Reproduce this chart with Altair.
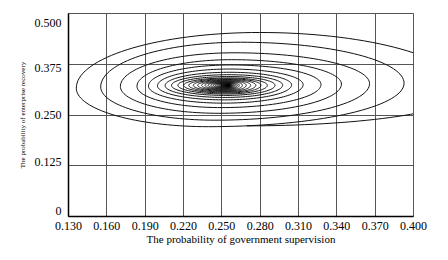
import altair as alt
import numpy as np
import pandas as pd

# Tick values
x_ticks = [0.130, 0.160, 0.190, 0.220, 0.250, 0.280, 0.310, 0.340, 0.370, 0.400]
y_ticks = [0.0, 0.125, 0.250, 0.375, 0.500]

# Start of the trajectory (on the outer bottom arc)
start_x = 0.270
start_y = 0.222

# Extreme points of each loop of the spiral (outer -> inner)
right_x = [0.440, 0.393, 0.366, 0.344, 0.328, 0.314, 0.305, 0.298, 0.292, 0.286,
           0.281, 0.277, 0.273, 0.2695, 0.2665, 0.2640, 0.2625, 0.2613, 0.2603, 0.2595,
           0.2588, 0.2582, 0.2577, 0.2573, 0.2570, 0.2567, 0.2565, 0.2563, 0.2562, 0.2561,
           0.2560, 0.2559, 0.2558, 0.2558, 0.2557]
right_y = [0.305, 0.327, 0.326, 0.325, 0.324, 0.3235, 0.323, 0.3225, 0.322, 0.322,
           0.322, 0.322, 0.322, 0.322, 0.322, 0.322, 0.322, 0.322, 0.322, 0.322,
           0.322, 0.322, 0.322, 0.322, 0.322, 0.322, 0.322, 0.322, 0.322, 0.322,
           0.322, 0.322, 0.322, 0.322, 0.322]
top_x = [0.280, 0.265, 0.260, 0.258, 0.257, 0.2565, 0.2562, 0.2560, 0.2558, 0.2558,
         0.2558, 0.2558, 0.2558, 0.2558, 0.2558, 0.2558, 0.2558, 0.2558, 0.2558, 0.2558,
         0.2558, 0.2558, 0.2558, 0.2558, 0.2558, 0.2558, 0.2558, 0.2558, 0.2558, 0.2558,
         0.2558, 0.2558, 0.2558, 0.2558, 0.2558]
top_y = [0.452, 0.428, 0.402, 0.385, 0.372, 0.362, 0.354, 0.348, 0.3435, 0.340,
         0.3380, 0.3362, 0.3346, 0.3331, 0.3318, 0.3306, 0.3295, 0.3285, 0.3276, 0.3268,
         0.3261, 0.3255, 0.3250, 0.3245, 0.3241, 0.3238, 0.3235, 0.3233, 0.3231, 0.3229,
         0.3228, 0.3227, 0.3226, 0.3225, 0.3225]
left_x = [0.1365, 0.1556, 0.171, 0.184, 0.193, 0.200, 0.206, 0.211, 0.216, 0.2205,
          0.2245, 0.228, 0.2315, 0.2345, 0.2372, 0.2396, 0.2418, 0.2437, 0.2453, 0.2467,
          0.2480, 0.2490, 0.2499, 0.2507, 0.2514, 0.2520, 0.2525, 0.2530, 0.2534, 0.2537,
          0.2540, 0.2543, 0.2545, 0.2547, 0.2549]
left_y = [0.315, 0.318, 0.319, 0.3195, 0.320, 0.3205, 0.321, 0.3215, 0.322, 0.322,
          0.322, 0.322, 0.322, 0.322, 0.322, 0.322, 0.322, 0.322, 0.322, 0.322,
          0.322, 0.322, 0.322, 0.322, 0.322, 0.322, 0.322, 0.322, 0.322, 0.322,
          0.322, 0.322, 0.322, 0.322, 0.322]
bottom_x = [0.240, 0.245, 0.248, 0.250, 0.2515, 0.2525, 0.253, 0.2535, 0.254, 0.2545,
            0.2550, 0.2550, 0.2550, 0.2550, 0.2550, 0.2550, 0.2550, 0.2550, 0.2550, 0.2550,
            0.2550, 0.2550, 0.2550, 0.2550, 0.2550, 0.2550, 0.2550, 0.2550, 0.2550, 0.2550,
            0.2550, 0.2550, 0.2550, 0.2550, 0.2550]
bottom_y = [0.220, 0.236, 0.253, 0.267, 0.278, 0.286, 0.292, 0.297, 0.3005, 0.303,
            0.3050, 0.3068, 0.3084, 0.3099, 0.3113, 0.3126, 0.3138, 0.3149, 0.3159, 0.3168,
            0.3176, 0.3183, 0.3189, 0.3194, 0.3198, 0.3201, 0.3204, 0.3206, 0.3208, 0.3210,
            0.3211, 0.3212, 0.3213, 0.3214, 0.3215]


def quarter(h, v, reverse, n=36):
    """Quarter ellipse between a horizontal extreme h and a vertical extreme v."""
    cx, cy = v[0], h[1]
    t = np.linspace(0, np.pi / 2, n)
    xs = cx + (h[0] - cx) * np.cos(t)
    ys = cy + (v[1] - cy) * np.sin(t)
    if reverse:
        xs, ys = xs[::-1], ys[::-1]
    return list(xs), list(ys)


px, py = [], []
S = (start_x, start_y)
for k in range(len(right_x)):
    R = (right_x[k], right_y[k])
    T = (top_x[k], top_y[k])
    L = (left_x[k], left_y[k])
    B = (bottom_x[k], bottom_y[k])
    prevB = S if k == 0 else (bottom_x[k - 1], bottom_y[k - 1])
    for xs, ys in (quarter(R, prevB, True), quarter(R, T, False),
                   quarter(L, T, True), quarter(L, B, False)):
        px.extend(xs)
        py.extend(ys)

df = pd.DataFrame({"x": px, "y": py, "i": range(len(px))})

FONT = "Liberation Serif"

chart = alt.Chart(df).mark_line(
    clip=True, color="#111111", strokeWidth=1.0
).encode(
    x=alt.X(
        "x:Q",
        scale=alt.Scale(domain=[0.13, 0.40], nice=False, zero=False),
        axis=alt.Axis(
            values=x_ticks,
            format=".3f",
            title="The probability of government supervision",
            titleFont=FONT,
            titleFontSize=11,
            titleFontWeight="normal",
            titleColor="#000000",
            titlePadding=2,
            labelFont=FONT,
            labelFontSize=12,
            labelColor="#000000",
            labelPadding=4,
            ticks=False,
            grid=True,
            gridColor="#555555",
            gridWidth=1,
            domainColor="#000000",
            domainWidth=1.5,
            labelFlush=False,
        ),
    ),
    y=alt.Y(
        "y:Q",
        scale=alt.Scale(domain=[0, 0.5], nice=False, zero=False),
        axis=alt.Axis(
            values=y_ticks,
            labelExpr="datum.value == 0 ? '0' : format(datum.value, '.3f')",
            title="The probability of enterprise recovery",
            titleFont=FONT,
            titleFontSize=7,
            titleFontWeight="normal",
            titleColor="#000000",
            titlePadding=9,
            labelFont=FONT,
            labelFontSize=12,
            labelColor="#000000",
            labelPadding=7,
            labelOffset={
                "condition": [
                    {"test": "datum.value == 0.5", "value": 9},
                    {"test": "datum.value == 0.375", "value": 4},
                    {"test": "datum.value == 0.125", "value": -4},
                    {"test": "datum.value == 0", "value": -6},
                ],
                "value": 0,
            },
            ticks=False,
            grid=True,
            gridColor="#555555",
            gridWidth=1,
            domainColor="#000000",
            domainWidth=1.5,
            labelFlush=False,
        ),
    ),
    order="i:Q",
).properties(
    width=345,
    height=203,
    padding={"left": 10, "top": 5, "right": 5, "bottom": 5},
).configure_view(
    stroke="#000000", strokeWidth=1.5
).configure(
    background="white"
)

chart.save("out.html", embed_options={"renderer": "svg", "actions": False})
